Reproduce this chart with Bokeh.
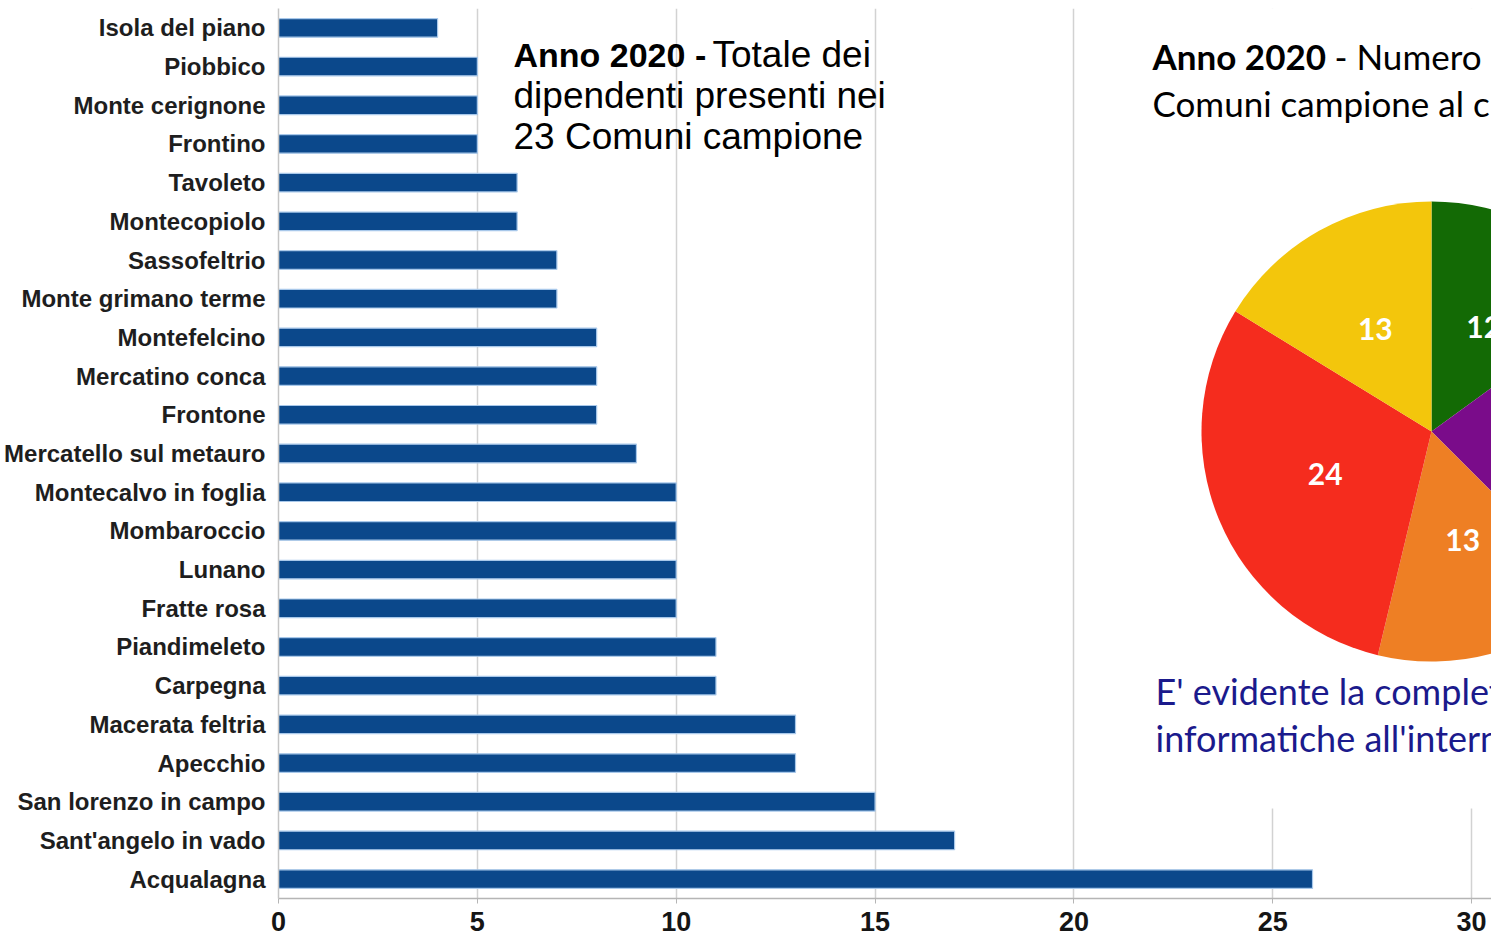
import math
from bokeh.plotting import figure
from bokeh.models import Range1d, FactorRange, SingleIntervalTicker
from bokeh.core.properties import value
from bokeh.embed import file_html
from bokeh.resources import INLINE

# ---------------- data ----------------
comuni = [
    "Isola del piano", "Piobbico", "Monte cerignone", "Frontino", "Tavoleto",
    "Montecopiolo", "Sassofeltrio", "Monte grimano terme", "Montefelcino",
    "Mercatino conca", "Frontone", "Mercatello sul metauro", "Montecalvo in foglia",
    "Mombaroccio", "Lunano", "Fratte rosa", "Piandimeleto", "Carpegna",
    "Macerata feltria", "Apecchio", "San lorenzo in campo", "Sant'angelo in vado",
    "Acqualagna",
]
dipendenti = [4, 5, 5, 5, 6, 6, 7, 7, 8, 8, 8, 9, 10, 10, 10, 10, 11, 11, 13, 13, 15, 17, 26]
x_ticks_interval = 5

# pie (clockwise from 12 o'clock)
pie_values = [12, 18, 13, 24, 13]
pie_colors = ["#136a05", "#7a0c8a", "#ee7f24", "#f52c1e", "#f3c60c"]
pie_labels = ["12", "", "13", "24", "13"]

title_left_bold = "Anno 2020 -"
title_left_lines = ["Totale dei", "dipendenti presenti nei", "23 Comuni campione"]
title_right_bold = "Anno 2020"
title_right_rest = "- Numero"
title_right_line2 = "Comuni campione al c"
note_lines = ["E' evidente la complet", "informatiche all'intern"]

# ---------------- layout (page pixels) ----------------
W, H = 1491, 938
FRAME_LEFT, FRAME_RIGHT = 278, 1491
FRAME_TOP, FRAME_BOTTOM = 8, 898
PX_PER_UNIT = 39.77
N = len(comuni)

p = figure(
    width=W, height=H, output_backend="svg", toolbar_location=None,
    x_range=Range1d(0, (FRAME_RIGHT - FRAME_LEFT) / PX_PER_UNIT),
    y_range=FactorRange(factors=list(reversed(comuni)), range_padding=0),
    min_border_left=FRAME_LEFT, min_border_right=0,
    min_border_top=FRAME_TOP, min_border_bottom=H - FRAME_BOTTOM,
    background_fill_color="white", border_fill_color="white",
)
p.outline_line_color = None

# overlay coordinates: x in page pixels; y converted to the synthetic categorical axis
p.extra_x_ranges = {"px": Range1d(FRAME_LEFT, FRAME_RIGHT)}


def sy(page_y):
    return (FRAME_BOTTOM - page_y) * N / (FRAME_BOTTOM - FRAME_TOP)


# bars
p.hbar(y=comuni, right=dipendenti, left=0, height=0.48,
       fill_color="#0b488b", line_color="#a8c8ea", line_width=1.2)

# grid / axes
p.ygrid.grid_line_color = None
p.xgrid.grid_line_color = "#d2d2d2"
p.xgrid.grid_line_width = 1.5
p.xaxis.ticker = SingleIntervalTicker(interval=x_ticks_interval, num_minor_ticks=0)
p.xaxis.axis_line_color = "#b5b5b5"
p.xaxis.axis_line_width = 1.5
p.xaxis.major_tick_line_color = "#b5b5b5"
p.xaxis.major_tick_out = 5
p.xaxis.major_tick_in = 0
p.xaxis.minor_tick_line_color = None
p.xaxis.major_label_standoff = 8
p.xaxis.major_label_text_font = "Liberation Sans"
p.xaxis.major_label_text_font_style = "bold"
p.xaxis.major_label_text_font_size = "27px"
p.xaxis.major_label_text_color = "#151515"

p.yaxis.axis_line_color = "#c5c5c5"
p.yaxis.axis_line_width = 1.5
p.yaxis.major_tick_line_color = None
p.yaxis.major_tick_out = 0
p.yaxis.major_tick_in = 0
p.yaxis.minor_tick_line_color = None
p.yaxis.major_label_standoff = 13
p.yaxis.major_label_text_font = "Liberation Sans"
p.yaxis.major_label_text_font_style = "bold"
p.yaxis.major_label_text_font_size = "24px"
p.yaxis.major_label_text_color = "#1e1e1e"

# white panel of the slide covering the right part
p.quad(left=[1135], right=[1500], bottom=[sy(808)], top=[sy(-5)],
       x_range_name="px", fill_color="white", line_color=None)

# pie chart (drawn in page pixels, radius in x pixels)
cx, cy, R = 1431, 431, 230
total = sum(pie_values)
ang = math.pi / 2
starts, ends, lx, ly = [], [], [], []
for v in pie_values:
    span = 2 * math.pi * v / total
    ends.append(ang)
    starts.append(ang - span)
    mid = ang - span / 2
    lx.append(cx + 0.5 * R * math.cos(mid))
    ly.append(sy(cy - 2 - 0.5 * R * math.sin(mid)))
    ang -= span
p.wedge(x=cx, y=sy(cy), radius=R, start_angle=starts, end_angle=ends,
        fill_color=pie_colors, line_color=None, x_range_name="px")
p.text(x=lx, y=ly, text=pie_labels, x_range_name="px",
       text_font=value("Lato"), text_font_style="bold", text_font_size="30px",
       text_color="white", text_align="center", text_baseline="middle")

# left title
p.text(x=[513], y=[sy(54)], text=[title_left_bold], x_range_name="px",
       text_font=value("Liberation Sans"), text_font_style="bold", text_font_size="34px",
       text_color="#000000", text_align="left", text_baseline="alphabetic")
p.text(x=[712, 513, 513], y=[sy(54), sy(95), sy(136)], text=title_left_lines,
       x_range_name="px",
       text_font=value("Liberation Sans"), text_font_size="37px",
       text_color="#000000", text_align="left", text_baseline="alphabetic")

# right title
p.text(x=[1152], y=[sy(55)], text=[title_right_bold], x_range_name="px",
       text_font=value("Lato"), text_font_style="bold", text_font_size="35px",
       text_color="#000000", text_align="left", text_baseline="alphabetic")
p.text(x=[1334, 1152], y=[sy(55), sy(103)], text=[title_right_rest, title_right_line2],
       x_range_name="px",
       text_font=value("Lato"), text_font_size="35px",
       text_color="#000000", text_align="left", text_baseline="alphabetic")

# blue note
p.text(x=[1155, 1155], y=[sy(690), sy(737)], text=note_lines,
       x_range_name="px",
       text_font=value("Lato"), text_font_size="36px",
       text_color="#1b1a8c", text_align="left", text_baseline="alphabetic")

open("out.html", "w").write(file_html(p, INLINE))
